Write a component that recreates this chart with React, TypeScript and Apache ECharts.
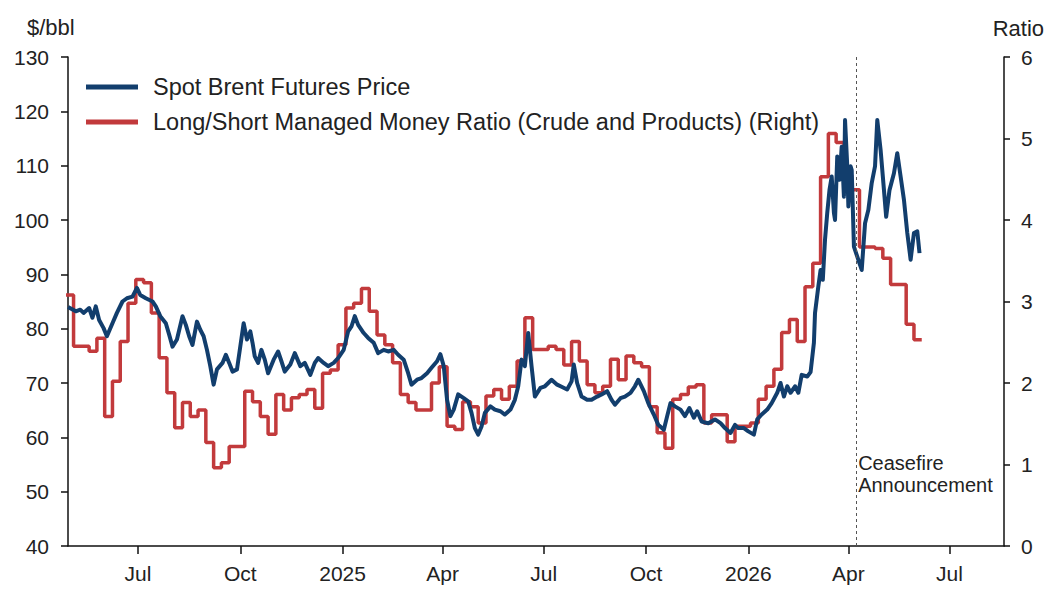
import { useEffect, useRef } from "react";
import * as echarts from "echarts";

// Spot Brent futures price, $/bbl
const brentPrices: [string, number][] = [
  ["2024-04-29", 84.0], ["2024-05-06", 83.2], ["2024-05-10", 83.5], ["2024-05-13", 82.9],
  ["2024-05-18", 83.8], ["2024-05-21", 82.0], ["2024-05-24", 84.1], ["2024-05-27", 81.6],
  ["2024-05-31", 80.1], ["2024-06-03", 78.6], ["2024-06-08", 81.0], ["2024-06-12", 82.9],
  ["2024-06-17", 85.0], ["2024-06-21", 85.6], ["2024-06-26", 85.9], ["2024-06-30", 87.5],
  ["2024-07-03", 86.2], ["2024-07-08", 85.6], ["2024-07-14", 85.0], ["2024-07-17", 84.1],
  ["2024-07-21", 82.3], ["2024-07-26", 81.0], ["2024-07-29", 78.9], ["2024-08-01", 76.7],
  ["2024-08-05", 78.0], ["2024-08-10", 82.3], ["2024-08-13", 80.7], ["2024-08-16", 78.6],
  ["2024-08-19", 77.0], ["2024-08-23", 81.3], ["2024-08-26", 79.8], ["2024-08-29", 78.6],
  ["2024-09-01", 76.1], ["2024-09-04", 73.1], ["2024-09-07", 69.7], ["2024-09-10", 72.5],
  ["2024-09-15", 73.7], ["2024-09-18", 75.2], ["2024-09-21", 73.7], ["2024-09-24", 72.1],
  ["2024-09-28", 72.5], ["2024-10-04", 81.0], ["2024-10-07", 78.0], ["2024-10-10", 79.5],
  ["2024-10-12", 77.4], ["2024-10-14", 74.9], ["2024-10-17", 73.7], ["2024-10-20", 76.1],
  ["2024-10-23", 74.3], ["2024-10-26", 71.8], ["2024-10-31", 74.3], ["2024-11-04", 75.8],
  ["2024-11-07", 74.0], ["2024-11-10", 72.1], ["2024-11-15", 73.4], ["2024-11-19", 75.5],
  ["2024-11-24", 73.1], ["2024-11-28", 73.7], ["2024-12-03", 71.5], ["2024-12-07", 73.7],
  ["2024-12-10", 74.6], ["2024-12-15", 73.7], ["2024-12-19", 73.1], ["2024-12-24", 73.7],
  ["2024-12-28", 74.6], ["2025-01-02", 76.1], ["2025-01-06", 79.5], ["2025-01-09", 80.4],
  ["2025-01-12", 82.3], ["2025-01-15", 80.7], ["2025-01-20", 79.2], ["2025-01-24", 78.3],
  ["2025-01-29", 77.4], ["2025-02-02", 75.5], ["2025-02-07", 76.1], ["2025-02-11", 75.8],
  ["2025-02-16", 76.1], ["2025-02-20", 75.2], ["2025-02-25", 74.3], ["2025-03-01", 71.8],
  ["2025-03-04", 69.7], ["2025-03-09", 70.6], ["2025-03-13", 70.9], ["2025-03-18", 71.8],
  ["2025-03-22", 72.8], ["2025-03-27", 74.0], ["2025-03-30", 75.3], ["2025-04-02", 73.1],
  ["2025-04-05", 66.9], ["2025-04-08", 63.9], ["2025-04-11", 65.1], ["2025-04-15", 67.9],
  ["2025-04-20", 67.2], ["2025-04-24", 66.6], ["2025-04-27", 64.5], ["2025-04-30", 61.7],
  ["2025-05-03", 60.5], ["2025-05-06", 62.0], ["2025-05-09", 64.5], ["2025-05-14", 65.7],
  ["2025-05-18", 65.1], ["2025-05-23", 64.8], ["2025-05-27", 64.2], ["2025-06-01", 65.1],
  ["2025-06-05", 66.9], ["2025-06-08", 69.4], ["2025-06-11", 74.3], ["2025-06-14", 73.1],
  ["2025-06-17", 79.2], ["2025-06-20", 73.1], ["2025-06-23", 67.5], ["2025-06-28", 69.1],
  ["2025-07-02", 69.4], ["2025-07-08", 70.6], ["2025-07-13", 69.7], ["2025-07-17", 69.3],
  ["2025-07-22", 68.8], ["2025-07-26", 70.3], ["2025-07-28", 73.4], ["2025-07-31", 70.0],
  ["2025-08-04", 67.5], ["2025-08-09", 66.9], ["2025-08-13", 66.9], ["2025-08-18", 67.5],
  ["2025-08-22", 67.9], ["2025-08-27", 68.5], ["2025-08-31", 66.9], ["2025-09-03", 66.0],
  ["2025-09-08", 67.2], ["2025-09-12", 67.5], ["2025-09-17", 68.2], ["2025-09-21", 69.4],
  ["2025-09-24", 70.6], ["2025-09-29", 68.5], ["2025-10-03", 66.3], ["2025-10-08", 64.2],
  ["2025-10-12", 62.3], ["2025-10-17", 61.4], ["2025-10-20", 63.9], ["2025-10-23", 66.3],
  ["2025-10-27", 65.7], ["2025-11-01", 65.1], ["2025-11-05", 63.9], ["2025-11-09", 65.4],
  ["2025-11-13", 63.6], ["2025-11-16", 64.8], ["2025-11-20", 62.9], ["2025-11-26", 62.6],
  ["2025-12-02", 63.3], ["2025-12-07", 62.6], ["2025-12-11", 61.7], ["2025-12-16", 60.8],
  ["2025-12-20", 62.3], ["2025-12-23", 61.7], ["2025-12-28", 61.7], ["2026-01-01", 61.1],
  ["2026-01-06", 60.5], ["2026-01-09", 63.3], ["2026-01-13", 64.2], ["2026-01-18", 65.1],
  ["2026-01-22", 66.3], ["2026-01-27", 68.2], ["2026-01-30", 70.0], ["2026-02-02", 67.5],
  ["2026-02-05", 69.4], ["2026-02-08", 68.2], ["2026-02-12", 69.4], ["2026-02-15", 68.2],
  ["2026-02-18", 71.5], ["2026-02-23", 71.2], ["2026-02-26", 72.0], ["2026-03-01", 77.4],
  ["2026-03-02", 82.9], ["2026-03-05", 87.8], ["2026-03-07", 90.8], ["2026-03-09", 89.0],
  ["2026-03-11", 96.4], ["2026-03-13", 101.3], ["2026-03-15", 105.5], ["2026-03-17", 108.0],
  ["2026-03-19", 101.3], ["2026-03-20", 100.0], ["2026-03-22", 111.7], ["2026-03-24", 107.4],
  ["2026-03-26", 113.5], ["2026-03-28", 104.3], ["2026-03-29", 118.4], ["2026-03-31", 109.9],
  ["2026-04-01", 102.5], ["2026-04-03", 109.9], ["2026-04-04", 109.2], ["2026-04-06", 95.1],
  ["2026-04-13", 90.8], ["2026-04-16", 99.4], ["2026-04-19", 101.9], ["2026-04-22", 106.8],
  ["2026-04-25", 109.9], ["2026-04-27", 118.4], ["2026-04-30", 112.9], ["2026-05-02", 108.0],
  ["2026-05-05", 100.6], ["2026-05-08", 105.5], ["2026-05-12", 108.6], ["2026-05-15", 112.3],
  ["2026-05-18", 108.0], ["2026-05-21", 103.7], ["2026-05-24", 97.6], ["2026-05-27", 92.7],
  ["2026-05-30", 97.6], ["2026-06-02", 97.9], ["2026-06-04", 93.9],
];

// Long/short managed money ratio (crude and products), weekly from ratioStart
const ratioStart = "2024-04-27";
const ratioWeekly: number[] = [
  3.08, 2.45, 2.45, 2.39, 2.55, 1.59, 2.02, 2.51, 2.98, 3.27,
  3.23, 2.86, 2.31, 1.88, 1.45, 1.76, 1.59, 1.67, 1.27, 0.96,
  1.02, 1.22, 1.22, 1.90, 1.77, 1.59, 1.37, 1.86, 1.67, 1.82,
  1.86, 1.92, 1.69, 2.12, 2.16, 2.47, 2.92, 2.98, 3.16, 2.88,
  2.59, 2.47, 2.25, 1.86, 1.76, 1.67, 1.67, 2.00, 2.20, 1.47,
  1.43, 1.77, 1.71, 1.51, 1.84, 1.92, 1.80, 1.96, 2.27, 2.80,
  2.41, 2.41, 2.45, 2.41, 2.22, 2.51, 2.27, 1.98, 1.88, 1.96,
  2.29, 2.04, 2.33, 2.25, 2.20, 1.71, 1.39, 1.20, 1.80, 1.86,
  1.95, 1.98, 1.51, 1.61, 1.61, 1.28, 1.47, 1.47, 1.51, 1.80,
  1.96, 2.17, 2.62, 2.78, 2.51, 3.18, 3.47, 4.53, 5.06, 4.95,
  4.55, 4.37, 3.67, 3.67, 3.65, 3.53, 3.21, 3.21, 2.72, 2.53,
];

const quarterTicks = [
  "2024-07-01", "2024-10-01", "2025-01-01", "2025-04-01", "2025-07-01",
  "2025-10-01", "2026-01-01", "2026-04-01", "2026-07-01",
];
const quarterLabels = ["Jul", "Oct", "2025", "Apr", "Jul", "Oct", "2026", "Apr", "Jul"];

const xMin = "2024-04-29";
const xMax = "2026-08-19";
const ceasefireDate = "2026-04-08";

const brentName = "Spot Brent Futures Price";
const ratioName = "Long/Short Managed Money Ratio (Crude and Products) (Right)";

const FONT = "'Liberation Sans', Arial, Helvetica, sans-serif";
const TEXT = "#222";
const AXIS = "#111";
const BLUE = "#123e6d";
const RED = "#c23a3c";

const toTime = (s: string) => {
  const [y, m, d] = s.split("-").map(Number);
  return new Date(y, m - 1, d).getTime();
};
const weekTime = (start: string, i: number) => {
  const [y, m, d] = start.split("-").map(Number);
  return new Date(y, m - 1, d + 7 * i).getTime();
};

export default function App() {
  const ref = useRef<HTMLDivElement>(null);

  useEffect(() => {
    if (!ref.current) return;
    const chart = echarts.init(ref.current, undefined, { renderer: "svg" });

    const tickTimes = quarterTicks.map(toTime);
    const labelByTime = new Map<number, string>();
    tickTimes.forEach((t, i) => labelByTime.set(t, quarterLabels[i]));

    const brentData = brentPrices.map(([d, v]) => [toTime(d), v]);
    // each weekly reading holds until the next one; the last holds for its week
    const ratioData = ratioWeekly.map((v, i) => [weekTime(ratioStart, i), v]);
    ratioData.push([weekTime(ratioStart, ratioWeekly.length), ratioWeekly[ratioWeekly.length - 1]]);

    const axisLine = { show: true, lineStyle: { color: AXIS, width: 1.5 } };
    const labelStyle = { fontSize: 21, color: TEXT, fontFamily: FONT };

    chart.setOption({
      animation: false,
      textStyle: { fontFamily: FONT },
      grid: { left: 68, right: 50, top: 57, bottom: 50 },
      legend: {
        data: [brentName, ratioName],
        orient: "vertical",
        left: 81,
        top: 70,
        icon: "rect",
        itemWidth: 52,
        itemHeight: 5,
        itemGap: 11,
        textStyle: { fontSize: 23.5, color: TEXT, fontFamily: FONT, padding: [0, 0, 0, 10] },
      },
      // dates are plotted as millisecond timestamps on a numeric axis
      xAxis: {
        type: "value",
        min: toTime(xMin),
        max: toTime(xMax),
        splitLine: { show: false },
        axisLine,
        axisTick: { show: true, length: 8, lineStyle: { color: AXIS, width: 1.5 }, customValues: tickTimes },
        axisLabel: {
          ...labelStyle,
          margin: 17,
          customValues: tickTimes,
          hideOverlap: false,
          formatter: (v: number) => labelByTime.get(v) ?? "",
        },
      },
      yAxis: [
        {
          type: "value",
          position: "left",
          min: 40,
          max: 130,
          interval: 10,
          splitLine: { show: false },
          axisLine,
          axisTick: { show: true, length: 7, lineStyle: { color: AXIS, width: 1.5 } },
          axisLabel: { ...labelStyle, margin: 19 },
        },
        {
          type: "value",
          position: "right",
          min: 0,
          max: 6,
          interval: 1,
          splitLine: { show: false },
          axisLine,
          axisTick: { show: true, length: 6, lineStyle: { color: AXIS, width: 1.5 } },
          axisLabel: { ...labelStyle, margin: 17 },
        },
      ],
      series: [
        {
          name: brentName,
          type: "line",
          yAxisIndex: 0,
          data: brentData,
          showSymbol: false,
          z: 3,
          itemStyle: { color: BLUE },
          lineStyle: { color: BLUE, width: 4, join: "round" },
          markLine: {
            silent: true,
            symbol: "none",
            label: { show: false },
            lineStyle: { color: "#555", width: 1, type: [3, 3] },
            data: [{ xAxis: toTime(ceasefireDate) }],
          },
        },
        {
          name: ratioName,
          type: "line",
          yAxisIndex: 1,
          step: "end",
          data: ratioData,
          showSymbol: false,
          z: 2,
          itemStyle: { color: RED },
          lineStyle: { color: RED, width: 3.5 },
        },
      ],
      graphic: [
        { id: "unitLeft", type: "text", left: 27, top: 16, style: { text: "$/bbl", fontSize: 22, fill: TEXT, fontFamily: FONT } },
        { id: "unitRight", type: "text", right: 10, top: 17, style: { text: "Ratio", fontSize: 22, fill: TEXT, fontFamily: FONT } },
      ],
    });

    const lineX = chart.convertToPixel({ xAxisIndex: 0 }, toTime(ceasefireDate)) as number;
    chart.setOption({
      graphic: [
        {
          id: "ceasefire",
          type: "text",
          x: lineX + 2,
          y: 452,
          style: { text: "Ceasefire\nAnnouncement", fontSize: 20, lineHeight: 22, fill: TEXT, fontFamily: FONT },
        },
      ],
    });

    return () => chart.dispose();
  }, []);

  return <div ref={ref} style={{ position: "absolute", left: 0, top: 0, width: 1054, height: 596 }} />;
}
